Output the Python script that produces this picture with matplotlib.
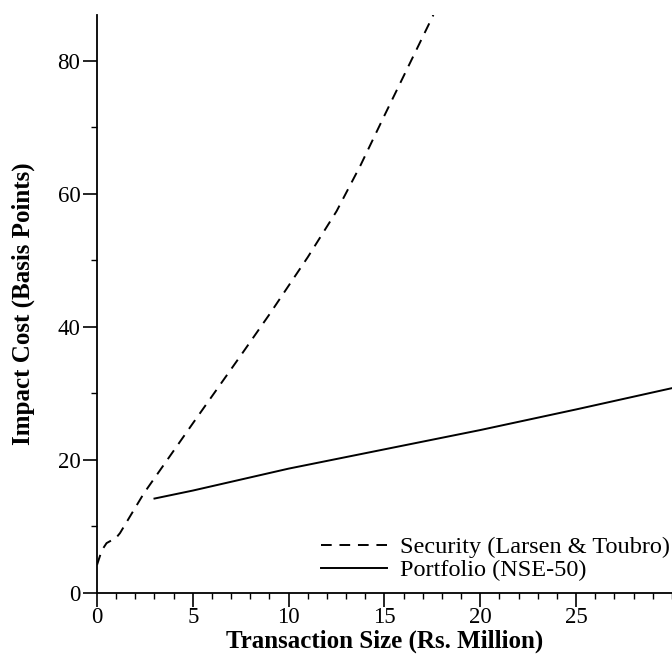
import matplotlib
matplotlib.use('Agg')
import matplotlib.pyplot as plt
from matplotlib.ticker import MultipleLocator

plt.rcParams['font.family'] = ['Liberation Serif', 'DejaVu Serif']

# values
security_x = [0, 0.25, 0.5, 1.0, 1.2, 2.45, 5, 7.5, 9.0, 11.0, 12.5, 13.75, 15, 17.55]
security_y = [4.2, 6.4, 7.5, 8.3, 9.0, 15.0, 25.5, 35.7, 41.9, 50.5, 57.4, 64.3, 71.8, 86.9]

portfolio_x = [3, 5, 10, 15, 20, 25, 30]
portfolio_y = [14.2, 15.4, 18.7, 21.6, 24.5, 27.6, 30.8]

fig = plt.figure(figsize=(6.72, 6.69), dpi=100)
ax = fig.add_axes([0.1443, 0.1136, 0.8557, 0.864])

ax.plot(security_x, security_y, color='black', lw=1.4, linestyle=(0, (5.5, 4)),
        label='Security (Larsen & Toubro)')
ax.plot(portfolio_x, portfolio_y, color='black', lw=1.4,
        label='Portfolio (NSE-50)')

ax.set_xlim(0, 30)
ax.set_ylim(0, 86.9)
ax.xaxis.set_major_locator(MultipleLocator(5))
ax.xaxis.set_minor_locator(MultipleLocator(1))
ax.yaxis.set_major_locator(MultipleLocator(20))
ax.yaxis.set_minor_locator(MultipleLocator(10))
ax.set_xticks([0, 5, 10, 15, 20, 25])

ax.spines['top'].set_visible(False)
ax.spines['right'].set_visible(False)
ax.spines['left'].set_linewidth(1.3)
ax.spines['bottom'].set_linewidth(1.3)
ax.tick_params(which='major', length=10, width=1.2, labelsize=16.5, direction='out', pad=2)
ax.tick_params(axis='x', which='major', pad=0)
ax.tick_params(which='minor', length=4, width=1.0, direction='out')

ax.set_xlabel('Transaction Size (Rs. Million)', fontsize=18, fontweight='bold', labelpad=1)
ax.set_ylabel('Impact Cost (Basis Points)', fontsize=18, fontweight='bold', labelpad=16)

ax.legend(loc='lower right', bbox_to_anchor=(1.035, -0.018), frameon=False,
          fontsize=17.5, handlelength=2.7, handletextpad=0.55, labelspacing=0.05)

fig.savefig('out.png', dpi=100)
